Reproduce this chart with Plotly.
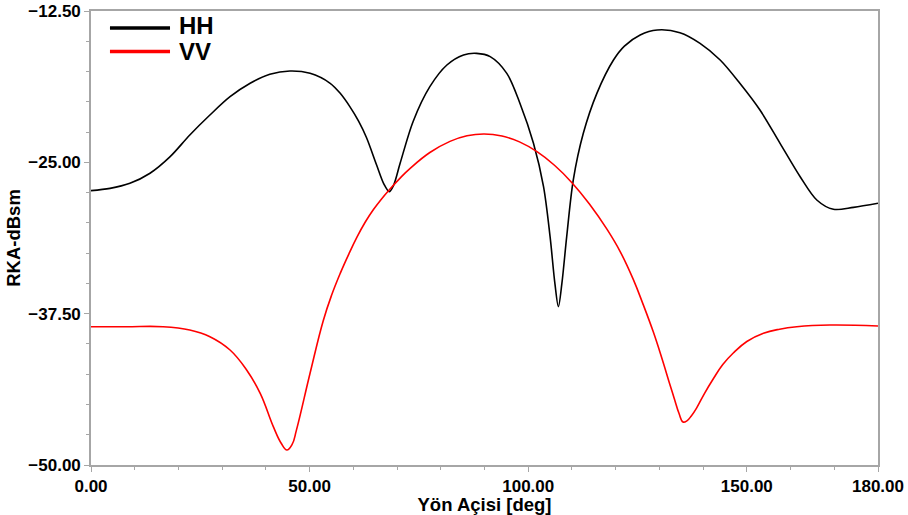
import plotly.graph_objects as go

# HH series (angle in deg, RCS in dBsm)
hh_angle = [0, 4.35, 8.9, 13.5, 18.1, 22.6, 27.2, 31.8, 36.4, 40.9, 45.5, 50.1, 54.7, 57.0,
            59.2, 61.2, 63.0, 65.3, 67.0, 68.2, 69.2, 70.7, 73.7, 77.5, 81.4, 85.2, 88.2,
            91.3, 95.1, 98.1, 101.2, 103.5, 105.0, 106.1, 106.9, 107.7, 108.8, 110.3, 112.6,
            115.7, 119.5, 122.0, 125.6, 129.5, 134.7, 139.3, 143.9, 148.4, 153.0, 157.6,
            162.2, 166.0, 169.8, 174.4, 180]
hh_value = [-27.34, -27.15, -26.73, -25.9, -24.53, -22.74, -21.09, -19.58, -18.47, -17.73,
            -17.46, -17.65, -18.47, -19.3, -20.4, -21.6, -22.95, -25.2, -26.8, -27.42,
            -26.9, -25.08, -21.6, -18.75, -16.96, -16.13, -16.0, -16.27, -17.65, -20.12,
            -23.43, -27.01, -31.14, -35.0, -36.92, -35.0, -31.14, -26.46, -22.6, -19.3,
            -16.55, -15.4, -14.48, -14.07, -14.29, -15.17, -16.55, -18.47, -20.68, -23.43,
            -26.19, -28.11, -28.88, -28.72, -28.38]

# VV series
vv_angle = [0, 8, 16.5, 22.6, 27.2, 31.8, 35.6, 38.7, 41.7, 43.5, 44.8, 46.0, 47.0, 50.1,
            53.1, 55.0, 57.0, 59.0, 60.8, 62.7, 64.6, 66.5, 68.4, 70.7, 73.0, 77.5, 82.1,
            86.0, 89.9, 94.0, 98.0, 102.0, 106.0, 110.0, 114.0, 118.0, 121.0, 124.0, 126.3,
            128.6, 130.5, 132.4, 133.4, 134.5, 135.4, 136.3, 137.3, 138.5, 140.3, 142.3,
            144.5, 146.9, 150.0, 153.8, 157.5, 161.4, 169.0, 180]
vv_value = [-38.58, -38.58, -38.58, -38.85, -39.4, -40.5, -42.15, -44.08, -46.83, -48.2,
            -48.76, -48.3, -47.1, -42.42, -38.1, -36.0, -34.17, -32.55, -31.2, -29.95,
            -28.9, -28.0, -27.2, -26.3, -25.5, -24.19, -23.27, -22.81, -22.66, -22.83,
            -23.31, -24.12, -25.24, -26.68, -28.44, -30.52, -32.35, -34.65, -36.75, -39.0,
            -41.1, -43.35, -44.5, -45.75, -46.45, -46.35, -45.95, -45.3, -44.1, -42.9,
            -41.7, -40.75, -39.8, -39.12, -38.78, -38.58, -38.44, -38.52]

x_tickvals = [0, 50, 100, 150, 180]
x_ticktext = ["0.00", "50.00", "100.00", "150.00", "180.00"]
x_minor = [10, 20, 30, 40, 60, 70, 80, 90, 110, 120, 130, 140, 160, 170]
series_names = ["HH", "VV"]
series_colors = ["#000000", "#ff0000"]

FONT = "Liberation Sans, Arial, sans-serif"
AXC = "#a6a6a6"

fig = go.Figure()
fig.add_trace(go.Scatter(x=hh_angle, y=hh_value, mode="lines", name=series_names[0],
                         line=dict(color=series_colors[0], width=1.6, shape="spline", smoothing=0.9),
                         showlegend=False))
fig.add_trace(go.Scatter(x=vv_angle, y=vv_value, mode="lines", name=series_names[1],
                         line=dict(color=series_colors[1], width=1.6, shape="spline", smoothing=1.2),
                         showlegend=False))

# legend drawn in paper coordinates
leg_y_line = [0.9626, 0.9108]
leg_y_text = [0.9680, 0.9108]
for i in range(2):
    fig.add_shape(type="line", xref="paper", yref="paper", x0=0.0241, x1=0.1004,
                  y0=leg_y_line[i], y1=leg_y_line[i],
                  line=dict(color=series_colors[i], width=3.5))
    fig.add_annotation(xref="paper", yref="paper", x=0.111, y=leg_y_text[i],
                       xanchor="left", yanchor="middle", showarrow=False,
                       text="<b>%s</b>" % series_names[i], borderpad=0,
                       font=dict(family=FONT, size=24, color="#000"))

fig.update_layout(
    template="none",
    width=908, height=515,
    margin=dict(l=91, r=30, t=11, b=50, autoexpand=False),
    paper_bgcolor="white", plot_bgcolor="white",
    font=dict(family=FONT, color="#000"),
    showlegend=False,
)
fig.update_xaxes(
    range=[0, 180], tickmode="array", tickvals=x_tickvals, ticktext=x_ticktext,
    automargin=False,
    showgrid=False, zeroline=False, showline=True, linecolor=AXC, linewidth=1.5,
    mirror=True, ticks="outside", ticklen=5, tickcolor=AXC, tickwidth=1.2,
    minor=dict(tickvals=x_minor, ticks="outside", ticklen=3, tickcolor=AXC, tickwidth=1.2, showgrid=False),
    tickfont=dict(family=FONT, size=17, color="#000", weight="bold"),
    title=dict(text="<b>Yön Açisi [deg]</b>", font=dict(family=FONT, size=18.5, color="#000"), standoff=0),
)
fig.update_yaxes(
    range=[-50, -12.5], tick0=-50, dtick=12.5, tickformat=".2f",
    automargin=False,
    showgrid=False, zeroline=False, showline=True, linecolor=AXC, linewidth=1.5,
    mirror=True, ticks="outside", ticklen=5, tickcolor=AXC, tickwidth=1.2,
    minor=dict(dtick=2.5, ticks="outside", ticklen=3, tickcolor=AXC, tickwidth=1.2, showgrid=False),
    tickfont=dict(family=FONT, size=17, color="#000", weight="bold"),
    title=dict(text="<b>RKA-dBsm</b>", font=dict(family=FONT, size=18.5, color="#000"), standoff=3),
)

fig.write_html("out.html", config={"displayModeBar": False},
               post_script="document.body.style.margin='0';document.body.style.padding='0';")
